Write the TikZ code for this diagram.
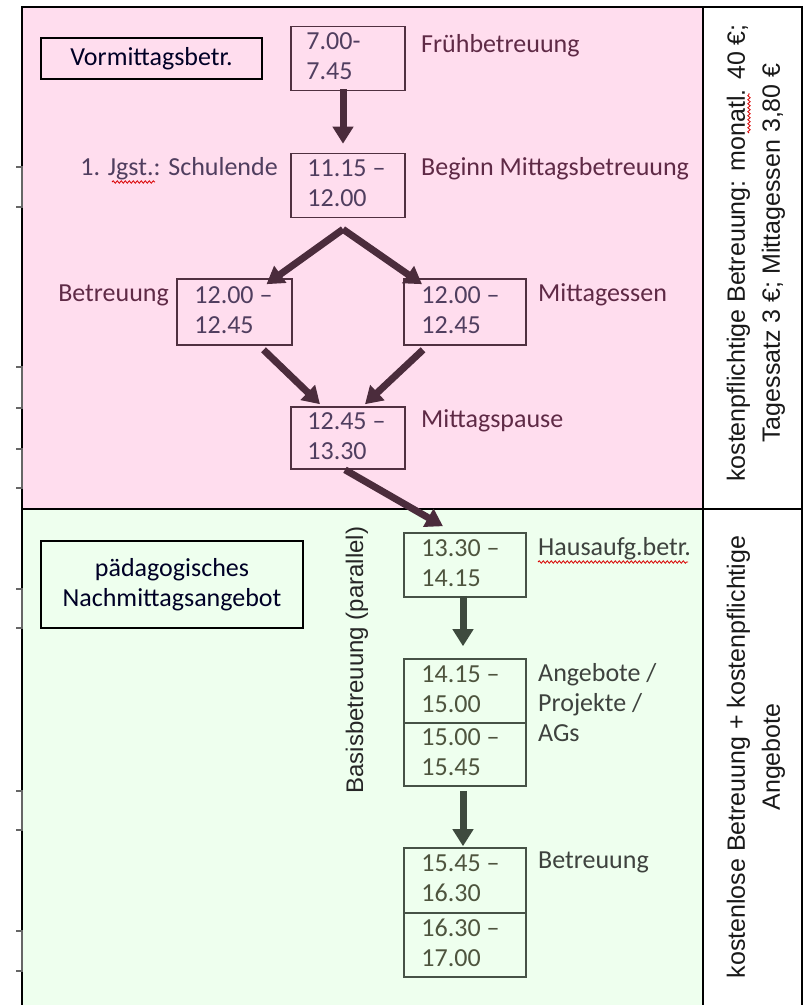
\documentclass[tikz,border=0pt]{standalone}
\usepackage{fontspec}
\setmainfont{Carlito}
\newfontfamily\sidefont{Liberation Sans}
\usetikzlibrary{arrows.meta,decorations.pathmorphing}
\definecolor{pinkbg}{RGB}{255,221,238}
\definecolor{greenbg}{RGB}{238,255,238}
\definecolor{maroonline}{RGB}{80,48,64}
\definecolor{maroontext}{RGB}{95,42,70}
\definecolor{timepk}{RGB}{80,62,95}
\definecolor{greenline}{RGB}{70,82,70}
\definecolor{greentext}{RGB}{62,66,62}
\definecolor{timegr}{RGB}{78,84,62}
\definecolor{arrowpk}{RGB}{75,44,60}
\definecolor{arrowgr}{RGB}{62,74,62}
\newcommand\mainfs{\fontsize{26}{30}\selectfont}
\newcommand\sidefs{\sidefont\fontsize{25}{35}\selectfont}
\tikzset{
  tbox/.style={rectangle, line width=1.6pt, inner sep=0pt, minimum width=#1, minimum height=64pt},
  pk/.style={draw=maroonline},
  gr/.style={draw=greenline},
  ttext/.style={inner sep=0pt, align=left, font=\mainfs, anchor=west},
  ttpk/.style={ttext, text=timepk},
  ttgr/.style={ttext, text=timegr},
  lbl/.style={inner sep=0pt, font=\mainfs},
  lblpk/.style={lbl, text=maroontext},
  lblgr/.style={lbl, text=greentext},
  headbox/.style={draw=black, line width=1.6pt, align=center, font=\mainfs, text=black!85!blue, inner sep=0pt},
  arrpk/.style={draw=arrowpk, line width=7pt, -{Triangle[width=20pt,length=17pt]}},
  arrgr/.style={draw=arrowgr, line width=7pt, -{Triangle[width=20pt,length=17pt]}},
  frame/.style={draw=black, line width=2pt},
  tick/.style={draw=black!60, line width=1.3pt},
  wavy/.style={draw=red!85!black, line width=0.8pt, decorate, decoration={snake, amplitude=1.2pt, segment length=4pt}},
  sidetext/.style={align=center, rotate=90, inner sep=0pt, text=black!90}
}
\begin{document}
\begin{tikzpicture}[x=1pt,y=-1pt]
\clip (0,0) rectangle (807,1005);
\useasboundingbox (0,0) rectangle (807,1005);
% backgrounds
\fill[pinkbg] (21.5,7) rectangle (703,509);
\fill[greenbg] (21.5,509) rectangle (703,1012);
\fill[white] (703,7) rectangle (802,1012);
% frame
\draw[frame] (21.5,1012) -- (21.5,7) -- (802,7) -- (802,1012);
\draw[frame] (21.5,509) -- (802,509);
\draw[frame] (703,7) -- (703,1012);
% margin ticks
\foreach \a/\b in {167/207, 367/408, 449/488, 589/628, 791/830, 931/971}{
  \draw[tick] (16,\a) -- (22,\a) -- (22,\b) -- (16,\b);
}
% header boxes
\node[headbox, minimum width=221pt, minimum height=41pt] (vm) at (151.5,58.5) {Vormittagsbetr.};
\node[headbox, minimum width=262pt, minimum height=87pt] (pn) at (172,584.5) {pädagogisches\\Nachmittagsangebot};
% time boxes
\node[tbox=114pt, pk] (b1) at (348,58.5) {};
\node[tbox=114pt, pk] (b2) at (348,185.5) {};
\node[tbox=115pt, pk, minimum height=66pt] (b3) at (234.5,312) {};
\node[tbox=122pt, pk, minimum height=66pt] (b4) at (465,312) {};
\node[tbox=114pt, pk, minimum height=62pt] (b5) at (348,438) {};
\node[tbox=122pt, gr] (b6) at (465,565) {};
\node[tbox=122pt, gr] (b7) at (465,691) {};
\node[tbox=122pt, gr, minimum height=63pt] (b8) at (465,754.5) {};
\node[tbox=122pt, gr, minimum height=65pt] (b9) at (465,880.5) {};
\node[tbox=122pt, gr] (b10) at (465,945) {};
% time texts
\node[ttpk] (t1) at ([xshift=16pt,yshift=2pt]b1.west) {7.00-\\7.45};
\node[ttpk] (t2) at ([xshift=17pt,yshift=2pt]b2.west) {11.15 –\\12.00};
\node[ttpk] (t3) at ([xshift=18pt,yshift=2pt]b3.west) {12.00 –\\12.45};
\node[ttpk] (t4) at ([xshift=18pt,yshift=2pt]b4.west) {12.00 –\\12.45};
\node[ttpk] (t5) at ([xshift=17pt,yshift=2pt]b5.west) {12.45 –\\13.30};
\node[ttgr] (t6) at ([xshift=18pt,yshift=2pt]b6.west) {13.30 –\\14.15};
\node[ttgr] (t7) at ([xshift=18pt,yshift=2pt]b7.west) {14.15 –\\15.00};
\node[ttgr] (t8) at ([xshift=18pt,yshift=2pt]b8.west) {15.00 –\\15.45};
\node[ttgr] (t9) at ([xshift=18pt,yshift=2pt]b9.west) {15.45 –\\16.30};
\node[ttgr] (t10) at ([xshift=18pt,yshift=2pt]b10.west) {16.30 –\\17.00};
% labels
\node[lblpk, anchor=base west] (l1) at (421,52) {Frühbetreuung};
\node[lblpk, anchor=base west] (l2) at (421,175) {Beginn Mittagsbetreuung};
\node[lblpk, anchor=base east, text=timepk] (l3) at (278,175) {1. Jgst.: Schulende};
\node[lblpk, anchor=base east] (l4) at (169,301) {Betreuung};
\node[lblpk, anchor=base west] (l5) at (538,301) {Mittagessen};
\node[lblpk, anchor=base west] (l6) at (421,427) {Mittagspause};
\node[lblgr, anchor=base west] (l7) at (538,555) {Hausaufg.betr.};
\node[lblgr, anchor=base west, align=left] (l8) at (538,741) {Angebote /\\Projekte /\\AGs};
\node[lblgr, anchor=base west] (l9) at (538,868) {Betreuung};
% rotated texts
\node[sidetext, anchor=base, font=\sidefont\fontsize{24}{28}\selectfont, text=black!85] (bb) at (363,660) {Basisbetreuung (parallel)};
\node[sidetext, font=\sidefs] (s1) at (756,253) {kostenpflichtige Betreuung: monatl. 40 €;\\Tagessatz 3 €; Mittagessen 3,80 €};
\node[sidetext, font=\sidefs] (s2) at (756,757) {kostenlose Betreuung + kostenpflichtige\\Angebote};
% spell-check underlines
\draw[wavy] (112,182) -- (155,182);
\draw[wavy] (749,133) -- (749,93);
\draw[wavy] (538,562) -- (688,562);
% arrows
\draw[arrpk] ([xshift=-5pt,yshift=2pt]b1.south) -- ([xshift=-5pt,yshift=9pt]b2.north);
\coordinate (ap) at ([xshift=-5pt,yshift=-11pt]b2.south);
\draw[arrpk] (ap) -- ([xshift=32pt,yshift=-6pt]b3.north);
\draw[arrpk] (ap) -- ([xshift=-43pt,yshift=-6pt]b4.north);
\draw[arrpk] ([xshift=29pt,yshift=-4pt]b3.south) -- ([xshift=-28pt,yshift=2pt]b5.north);
\draw[arrpk] ([xshift=-42pt,yshift=-4pt]b4.south) -- ([xshift=17pt,yshift=2pt]b5.north);
\draw[arrpk] ([xshift=-3pt,yshift=0pt]b5.south) -- ([xshift=-22pt,yshift=6pt]b6.north);
\draw[arrgr] ([xshift=-2pt,yshift=2pt]b6.south) -- ([xshift=-2pt,yshift=12pt]b7.north);
\draw[arrgr] ([xshift=-2pt,yshift=-4pt]b8.south) -- ([xshift=-2pt,yshift=1pt]b9.north);
\end{tikzpicture}
\end{document}
